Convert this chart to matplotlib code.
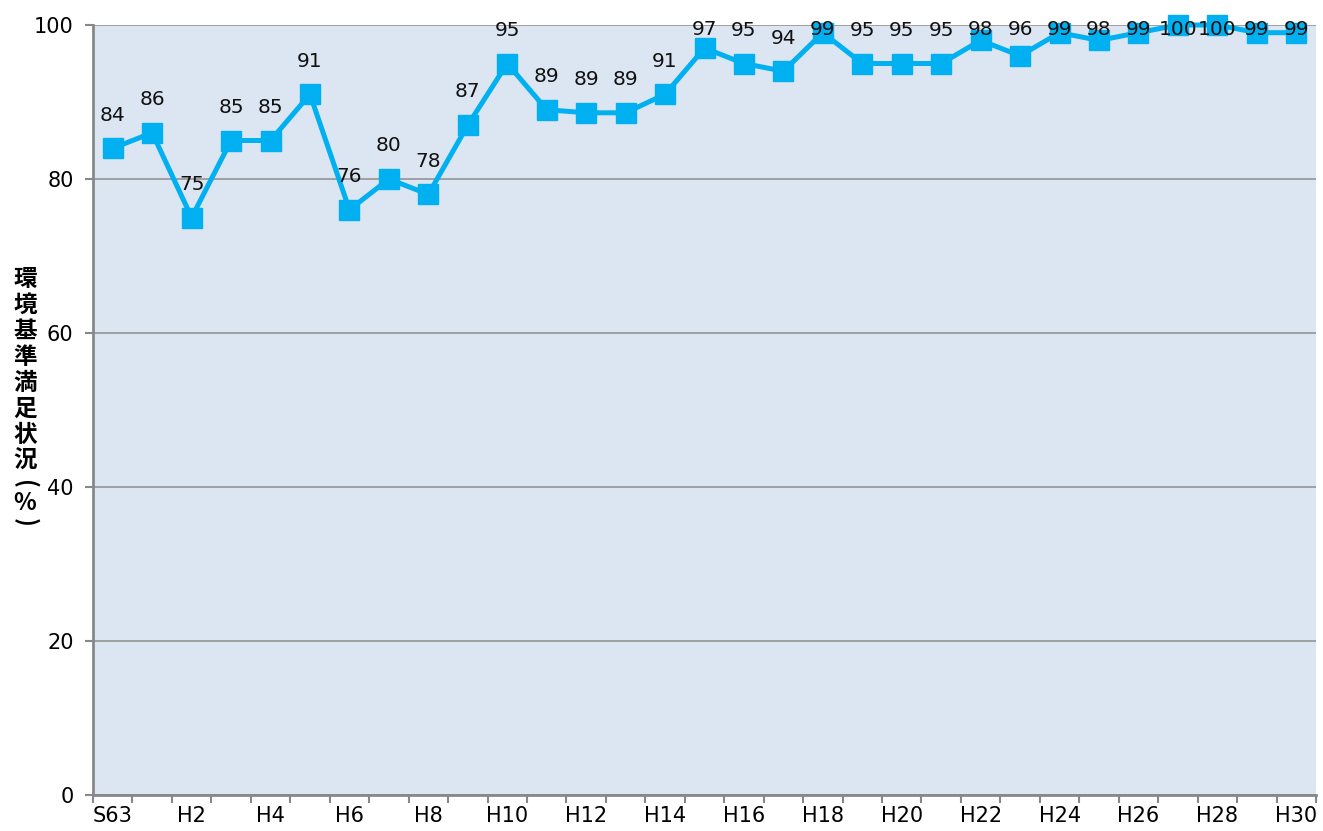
import matplotlib
matplotlib.use("Agg")
import matplotlib.pyplot as plt
import numpy as np

plt.rcParams['font.family'] = ['DejaVu Sans', 'Noto Sans CJK JP']

years = ["S63"] + ["H%d" % i for i in range(1, 31)]
values = [84, 86, 75, 85, 85, 91, 76, 80, 78, 87, 95, 89, 88.6, 88.6, 91,
          97, 95, 94, 99, 95, 95, 95, 98, 96, 99, 98, 99, 100, 100, 99, 99]
y_label_chars = ["環", "境", "基", "準", "満", "足", "状", "況", "(", "%", ")"]

line_color = "#00B0F0"
axis_color = "#888888"


def main():
    W, H = 1323, 831
    fig = plt.figure(figsize=(W / 100, H / 100), dpi=100)
    ax = fig.add_axes([93 / W, 36 / H, 1223 / W, 770 / H])
    ax.set_facecolor("#DCE6F2")

    x = np.arange(len(years))
    ax.plot(x, values, color=line_color, lw=3.6, marker="s", ms=14.5,
            mec=line_color, mfc=line_color, zorder=3, clip_on=False)
    # labels sit above the marker but are kept inside the plot area
    for xi, v in zip(x, values):
        ax.text(xi, min(v + 4.3, 99.4), "%d" % round(v), ha="center", va="center",
                fontsize=14.5, color="#111111", zorder=4)

    ax.set_xlim(-0.5, len(years) - 0.5)
    ax.set_ylim(0, 100)
    ax.set_yticks(np.arange(0, 101, 20))
    ax.grid(axis="y", color="#9a9a9a", lw=1.3)
    ax.set_axisbelow(True)

    ax.set_xticks(x[::2], years[::2])
    ax.set_xticks(np.arange(-0.5, len(years), 1), minor=True)
    ax.tick_params(axis="x", which="major", length=0, labelsize=15, pad=8)
    ax.tick_params(axis="x", which="minor", length=6, width=1.5, color=axis_color)
    ax.tick_params(axis="y", length=6, width=1.5, color=axis_color, labelsize=15, pad=8)

    for side in ("top", "right"):
        ax.spines[side].set_visible(False)
    for side in ("left", "bottom"):
        ax.spines[side].set_color(axis_color)
        ax.spines[side].set_linewidth(2)

    # vertical (tategaki) axis title, one glyph per row; brackets turned sideways
    ys = [279 + 26 * i for i in range(8)] + [484, 503, 522]
    for ch, yy in zip(y_label_chars, ys):
        rot = -90 if ch in "()" else 0
        fig.text(25 / W, 1 - yy / H, ch, ha="center", va="center", fontsize=17,
                 fontweight="bold", rotation=rot, family=['Noto Sans CJK JP', 'DejaVu Sans'])

    fig.savefig("out.png", dpi=100)


if __name__ == "__main__":
    main()
